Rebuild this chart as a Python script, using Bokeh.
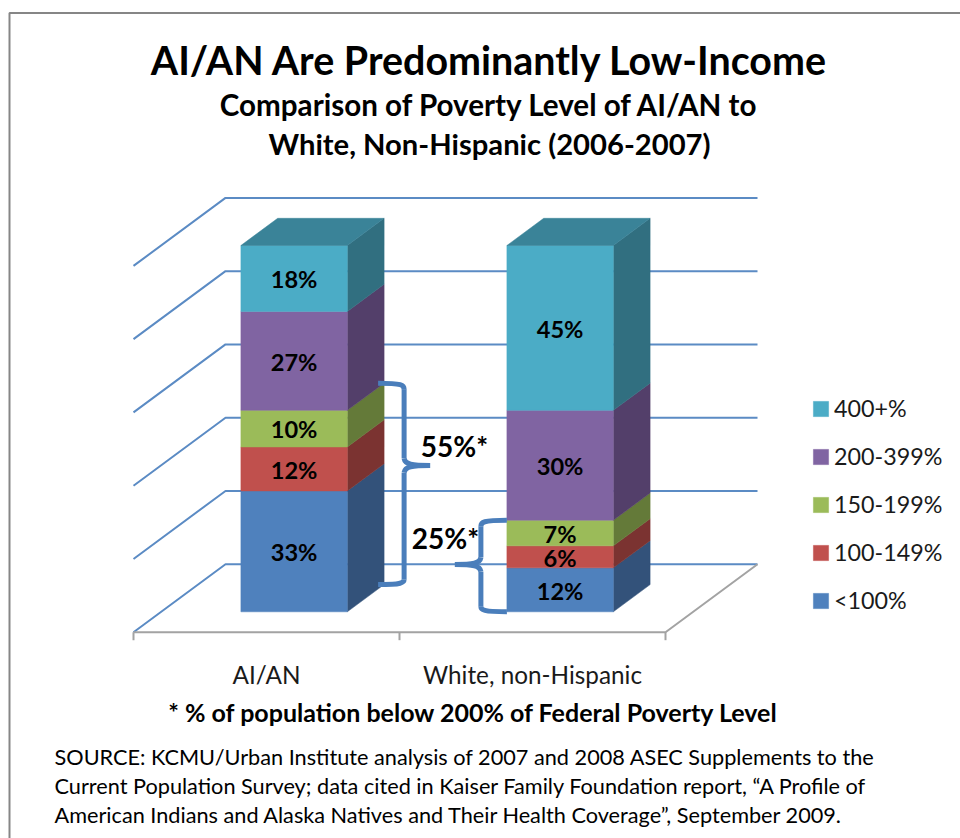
from bokeh.plotting import figure
from bokeh.embed import file_html
from bokeh.resources import INLINE
from bokeh.models import Legend, LegendItem
from bokeh.core.properties import value

# ---- data -------------------------------------------------------------
categories = ["AI/AN", "White, non-Hispanic"]
lt100 = [33, 12]
p100_149 = [12, 6]
p150_199 = [10, 7]
p200_399 = [27, 30]
p400_plus = [18, 45]
series_names = ["<100%", "100-149%", "150-199%", "200-399%", "400+%"]
value_ticks = [0, 20, 40, 60, 80, 100]
bracket_labels = ["55%*", "25%*"]
title_text = "AI/AN Are Predominantly Low-Income"
subtitle_lines = ["Comparison of Poverty Level of AI/AN to", "White, Non-Hispanic (2006-2007)"]
footnote = "* % of population below 200% of Federal Poverty Level"
source_lines = [
    "SOURCE: KCMU/Urban Institute analysis of 2007 and 2008 ASEC Supplements to the",
    "Current Population Survey; data cited in Kaiser Family Foundation report, \u201cA Profile of",
    "American Indians and Alaska Natives and Their Health Coverage\u201d, September 2009.",
]

# ---- styles -----------------------------------------------------------
front = ["#4F81BD", "#C0504D", "#9BBB59", "#8064A2", "#4BACC6"]
side = ["#33527A", "#7B3331", "#647A39", "#533F6A", "#316F80"]
top_col = "#3A8398"
grid_col = "#5B8BC4"
axis_col = "#A3A3A3"
brace_col = "#4A7EBB"
FONT = "Lato"

OX, OY = 0, 0
W, H = 960, 838
PX_CAT, PX_PCT = 266.0, 3.663
X0_PX, Y0_PX = 133.0, 611.3
DX, DY = 92.0 / PX_CAT, 68.0 / PX_PCT
D_FRONT, D_BACK = 0.3, 0.7
BAR_W = 0.4


def sx(x, d=0.0):
    return x + d * DX


def sy(v, d=D_FRONT):
    return v + (d - D_FRONT) * DY


def rx(px):
    return (px - X0_PX) / PX_CAT


def ry(px):
    return (Y0_PX - px) / PX_PCT


p = figure(
    width=W, height=H, output_backend="svg", toolbar_location=None,
    x_range=(rx(OX), rx(OX + W)), y_range=(ry(OY + H), ry(OY)),
    x_axis_location=None, y_axis_location=None, min_border=0,
    outline_line_color=None, background_fill_color="white", border_fill_color="white",
)
p.grid.visible = False

# frame of the slide
p.line([rx(9), rx(9), rx(OX + W)], [ry(OY + H), ry(12.5), ry(12.5)], line_color="#868686", line_width=2)

# walls: gridlines
for v in value_ticks:
    p.line([sx(0, 0), sx(0, 1), sx(len(categories), 1)], [sy(v, 0), sy(v, 1), sy(v, 1)],
           line_color=grid_col, line_width=2)

# floor
n = len(categories)
p.line([sx(0, 0), sx(n, 0), sx(n, 1)], [sy(0, 0), sy(0, 0), sy(0, 1)], line_color=axis_col, line_width=2)
tick_len = 8 / PX_PCT
p.segment([sx(i, 0) for i in range(n + 1)], [sy(0, 0)] * (n + 1),
          [sx(i, 0) for i in range(n + 1)], [sy(0, 0) - tick_len] * (n + 1),
          line_color=axis_col, line_width=2)

# bars
stack = [lt100, p100_149, p150_199, p200_399, p400_plus]
centers = [i + 0.5 for i in range(n)]
legend_items = []
bottoms = [0] * n
mids = []
for k, vals in enumerate(stack):
    tops = [b + v for b, v in zip(bottoms, vals)]
    l = [sx(c - BAR_W / 2, D_FRONT) for c in centers]
    r = [sx(c + BAR_W / 2, D_FRONT) for c in centers]
    rb = [sx(c + BAR_W / 2, D_BACK) for c in centers]
    p.patches(
        [[a, b, b, a] for a, b in zip(r, rb)],
        [[sy(b0), sy(b0, D_BACK), sy(t0, D_BACK), sy(t0)] for b0, t0 in zip(bottoms, tops)],
        fill_color=side[k], line_color=side[k], line_width=0.5,
    )
    q = p.quad(left=l, right=r, bottom=[sy(b) for b in bottoms], top=[sy(t) for t in tops],
               fill_color=front[k], line_color=front[k], line_width=0.5)
    legend_items.append(LegendItem(label=series_names[k], renderers=[q]))
    mids.append([(b + t) / 2 for b, t in zip(bottoms, tops)])
    bottoms = tops

p.patches(
    [[sx(c - BAR_W / 2, D_FRONT), sx(c + BAR_W / 2, D_FRONT), sx(c + BAR_W / 2, D_BACK), sx(c - BAR_W / 2, D_BACK)]
     for c in centers],
    [[sy(t), sy(t), sy(t, D_BACK), sy(t, D_BACK)] for t in bottoms],
    fill_color=top_col, line_color=top_col, line_width=0.5,
)

# data labels
for k, vals in enumerate(stack):
    p.text([sx(c, D_FRONT) for c in centers], [m - 0.8 / PX_PCT for m in mids[k]], text=[f"{v}%" for v in vals],
           text_font=value(FONT), text_font_style="bold", text_font_size="23.6px", text_color="black",
           text_align="center", text_baseline="middle")


# helpers for free text
def label(txt, xpx, ypx, size, bold=False, align="center"):
    p.text([rx(xpx)], [ry(ypx)], text=[txt], text_font=value(FONT),
           text_font_style="bold" if bold else "normal", text_font_size=size, text_color="black",
           text_align=align, text_baseline="middle")


# category labels
for c, name in zip(centers, categories):
    p.text([sx(c, 0)], [ry(673.5)], text=[name], text_font=value(FONT), text_font_size="24.3px",
           text_color="#1a1a1a", text_align="center", text_baseline="middle")

label(title_text, 489, 58.5, "39.4px", True)
label(subtitle_lines[0], 489, 104, "29.6px", True)
label(subtitle_lines[1], 489, 143, "29.2px", True)
label(footnote, 473, 711.5, "25px", True)
for t, y in zip(source_lines, [756, 785, 814.5]):
    label(t, 54, y, "21.7px", align="left")

# braces spanning the below-200% groups
below_200 = [a + b + c for a, b, c in zip(lt100, p100_149, p150_199)]
bx = sx(centers[0] + BAR_W / 2, D_BACK)
b_top, b_bot = sy(below_200[0], D_BACK), sy(0, D_BACK)
lx = sx(centers[1] - BAR_W / 2, D_FRONT)
c_top, c_bot = sy(below_200[1]), sy(0)
u = 1.0 / PX_CAT
h = 1.0 / PX_PCT


def brace(x_end, x_bar, x_tip, y_top, y_bot, y_tip, s):
    xs0, ys0, xs1, ys1, c0x, c0y, c1x, c1y = [], [], [], [], [], [], [], []
    pieces = [
        ((x_end, y_top), (x_bar, y_top - 6 * h), (x_bar - 2 * s * u, y_top), (x_bar, y_top - 2 * h)),
        ((x_bar, y_tip + 7 * h), (x_tip, y_tip), (x_bar + 1 * s * u, y_tip + 1 * h), (x_bar + 8 * s * u, y_tip)),
        ((x_tip, y_tip), (x_bar, y_tip - 7 * h), (x_bar + 8 * s * u, y_tip), (x_bar + 1 * s * u, y_tip - 1 * h)),
        ((x_bar, y_bot + 5 * h), (x_end, y_bot), (x_bar, y_bot + 2 * h), (x_bar - 2 * s * u, y_bot)),
    ]
    for a, b, c, d in pieces:
        xs0.append(a[0]); ys0.append(a[1]); xs1.append(b[0]); ys1.append(b[1])
        c0x.append(c[0]); c0y.append(c[1]); c1x.append(d[0]); c1y.append(d[1])
    p.bezier(xs0, ys0, xs1, ys1, c0x, c0y, c1x, c1y, line_color=brace_col, line_width=5)
    p.segment([x_bar], [y_top - 6 * h], [x_bar], [y_tip + 7 * h], line_color=brace_col, line_width=5)
    p.segment([x_bar], [y_tip - 7 * h], [x_bar], [y_bot + 5 * h], line_color=brace_col, line_width=5)


brace(bx - 6 * u, bx + 20 * u, bx + 46 * u, b_top, b_bot, ry(465), 1)
brace(lx, lx - 26 * u, lx - 52 * u, c_top, c_bot, ry(564), -1)

label(bracket_labels[0], 454, 445, "28px", True)
label(bracket_labels[1], 445, 537, "28px", True)

# legend (Bokeh insets its swatch by 10%, so 19 gives a 15px square)
legend = Legend(
    items=list(reversed(legend_items)), location=(811, H - 609 - 5), orientation="vertical",
    background_fill_alpha=0, border_line_color=None, glyph_width=19, glyph_height=19,
    label_standoff=4, spacing=20, padding=0, margin=0, label_text_font=FONT,
    label_text_font_size="23.3px", label_text_color="#1a1a1a", label_height=15,
)
p.add_layout(legend, "center")

open("out.html", "w").write(file_html(p, INLINE))
